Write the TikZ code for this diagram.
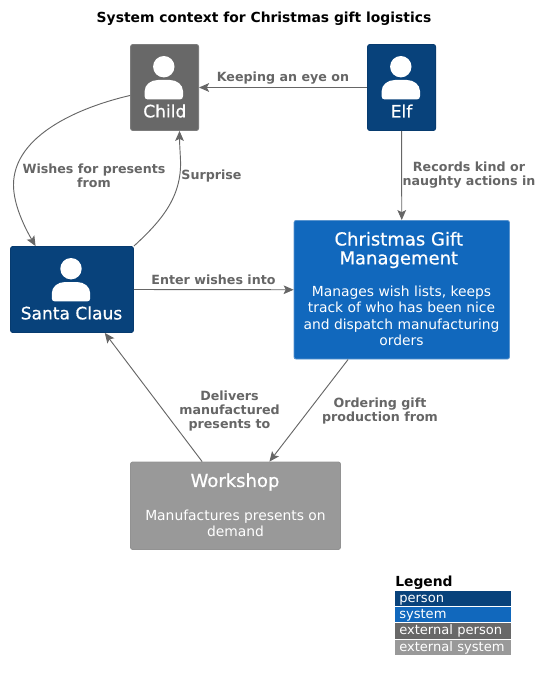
\documentclass[tikz,border=0pt]{standalone}
\usepackage{fontspec}
\setmainfont{DejaVu Sans}
\newfontfamily\namefont[FakeBold=0.6]{DejaVu Sans}
\usetikzlibrary{arrows.meta}
\definecolor{personc}{HTML}{08427B}
\definecolor{personb}{HTML}{073B6F}
\definecolor{systemc}{HTML}{1168BD}
\definecolor{systemb}{HTML}{5A94CE}
\definecolor{extpc}{HTML}{686868}
\definecolor{extpb}{HTML}{7C7C7C}
\definecolor{extsc}{HTML}{999999}
\definecolor{extsb}{HTML}{929292}
\definecolor{linec}{HTML}{666666}
\newcommand{\pxfont}[2]{\fontsize{#1pt}{#2pt}\selectfont}
\newcommand{\personicon}[2]{%
  \begin{scope}[shift={(#1,#2)}]
    \fill[white] (0,0) circle[radius=10.7];
    \fill[white] (-19.2,29.5) -- (-19.2,24.5) .. controls (-19.2,18) and (-13,13.3) .. (-6,13.3)
      -- (6,13.3) .. controls (13,13.3) and (19.2,18) .. (19.2,24.5) -- (19.2,29.5)
      .. controls (19.2,31.6) and (18,32.6) .. (16.5,32.6) -- (-16.5,32.6)
      .. controls (-18,32.6) and (-19.2,31.6) .. cycle;
  \end{scope}}
\tikzset{
  boxbase/.style={rectangle,rounded corners=1.6pt,line width=0.6pt,inner sep=0pt},
  personbox/.style={boxbase,fill=personc,draw=personb},
  systembox/.style={boxbase,fill=systemc,draw=systemb},
  extpersonbox/.style={boxbase,fill=extpc,draw=extpb},
  extsystembox/.style={boxbase,fill=extsc,draw=extsb},
  nametext/.style={text=white,font=\namefont\pxfont{12.8}{14.2},align=center,inner sep=0pt},
  systitle/.style={text=white,font=\namefont\pxfont{13.5}{14.2},align=center,inner sep=0pt},
  desctext/.style={text=white,font=\pxfont{10.4}{12.3},align=center,inner sep=0pt},
  rellabel/.style={text=linec,font=\pxfont{9.5}{10.5}\bfseries,align=center,inner sep=0pt},
  conn/.style={draw=linec,line width=0.7pt,-{Stealth[length=7.5pt,width=6.5pt,inset=1.6pt]}},
  legendbar/.style={rectangle,anchor=west,text=white,inner xsep=3pt,inner ysep=0pt,
    text width=81pt,minimum height=11.3pt,text height=8pt,text depth=2.4pt,align=left,font=\pxfont{9.8}{11}}
}
\begin{document}
\begin{tikzpicture}[x=0.75pt,y=-0.75pt]
\useasboundingbox (0,0) rectangle (541,681);
\node[text=black,font=\pxfont{10.4}{12}\bfseries,inner sep=0pt] (title) at (264,19) {System context for Christmas gift logistics};

\node[extpersonbox,minimum width=51pt,minimum height=64.5pt] (child) at (164.6,87.5) {};
\node[personbox,minimum width=51pt,minimum height=64.5pt] (elf) at (401.6,87.5) {};
\node[personbox,minimum width=92.2pt,minimum height=64.5pt] (santa) at (72,289.5) {};
\node[systembox,minimum width=161.6pt,minimum height=104pt] (cgm) at (401.75,289.75) {};
\node[extsystembox,minimum width=157.5pt,minimum height=65.6pt] (workshop) at (235.5,505.75) {};

\personicon{163.8}{66.7}
\personicon{400.8}{66.7}
\personicon{71}{268.7}

\node[nametext] (childname) at (164.8,111) {Child};
\node[nametext] (elfname) at (401.5,111) {Elf};
\node[nametext] (santaname) at (71.5,313) {Santa Claus};
\node[systitle] (cgmname) at (398.8,250) {Christmas Gift\\Management};
\node[desctext] (cgmdesc) at (401.5,316) {Manages wish lists, keeps\\track of who has been nice\\and dispatch manufacturing\\orders};
\node[systitle] (wsname) at (235,482) {Workshop};
\node[desctext] (wsdesc) at (235.5,523.5) {Manufactures presents on\\demand};

\draw[conn] (elf.west) -- (child.east);
\draw[conn] (elf.south) -- (cgm.north);
\draw[conn] (santa.east) -- (cgm.west);
\draw[conn] (cgm) -- (workshop);
\draw[conn] (workshop) -- (santa);
\draw[conn] (child.193) .. controls (80,107) and (13.5,135) .. (13.5,185) .. controls (13.5,205) and (25,228) .. (santa.130);
\draw[conn] (santa.north east) .. controls (160,222) and (182,198) .. (180.5,160) .. controls (180,150) and (179.5,142) .. (child.-71.5);

\node[rellabel] (l1) at (283,77.7) {Keeping an eye on};
\node[rellabel] (l2) at (94,175.5) {Wishes for presents\\from};
\node[rellabel] (l3) at (211.5,176) {Surprise};
\node[rellabel] (l4) at (213.5,280) {Enter wishes into};
\node[rellabel] (l5) at (469,175.5) {Records kind or\\naughty actions in};
\node[rellabel] (l6) at (229.5,411) {Delivers\\manufactured\\presents to};
\node[rellabel] (l7) at (380,411) {Ordering gift\\production from};

\node[text=black,anchor=west,inner sep=0pt,font=\pxfont{10.4}{12}\bfseries] (legend) at (395,583) {Legend};
\node[legendbar,fill=personc] (lg1) at (395,598.5) {\mbox{person}};
\node[legendbar,fill=systemc] (lg2) at (395,614.5) {\mbox{system}};
\node[legendbar,fill=extpc] (lg3) at (395,631) {\mbox{external person}};
\node[legendbar,fill=extsc] (lg4) at (395,647.5) {\mbox{external system}};
\end{tikzpicture}
\end{document}
